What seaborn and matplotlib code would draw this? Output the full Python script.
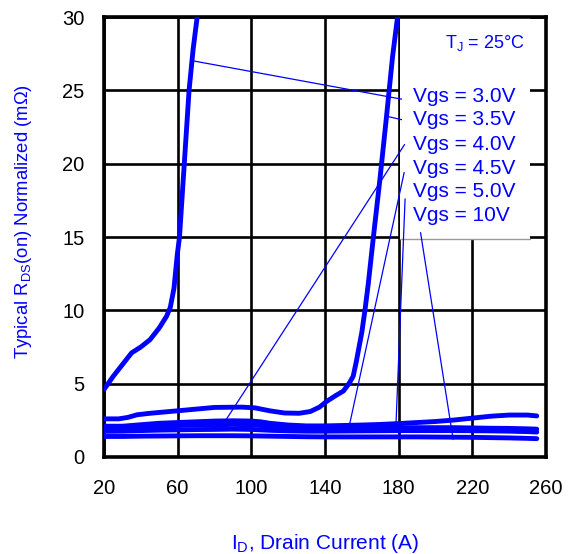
import matplotlib
matplotlib.use("Agg")
import matplotlib.pyplot as plt
import seaborn as sns
import pandas as pd
from matplotlib.patches import Rectangle

# drain current (A) and normalized Rds(on) (mOhm) per gate voltage
id_30 = [20, 25, 30, 35, 40, 45, 50, 54, 56, 58, 59.8, 61.0, 63.6, 66.2, 68.4, 70.6]
r_30 = [4.6, 5.5, 6.3, 7.1, 7.5, 8.0, 8.8, 9.6, 10.2, 11.5, 13.8, 15.0, 20.0, 25.0, 27.8, 30.0]

id_35 = [20, 28, 33, 38, 45, 60, 80, 95, 102, 110, 118, 126, 132, 137, 141, 146, 150,
         153, 155.3, 157, 158.5, 160, 161.7, 163.5, 166.2, 169.8, 173.4, 176.7, 179.4]
r_35 = [2.6, 2.6, 2.7, 2.88, 2.98, 3.15, 3.38, 3.4, 3.35, 3.15, 3.0, 2.98, 3.1, 3.4, 3.8, 4.2, 4.5,
        5.0, 5.5, 6.5, 7.5, 8.5, 10.0, 11.8, 14.9, 18.9, 23.2, 27.3, 30.0]

id_low = [20, 30, 40, 50, 60, 70, 80, 90, 100, 105, 110, 120, 130, 140, 150, 160, 170,
          180, 190, 200, 210, 220, 230, 240, 250, 255]
r_40 = [2.1, 2.1, 2.2, 2.3, 2.35, 2.4, 2.45, 2.47, 2.45, 2.4, 2.3, 2.18, 2.12, 2.12, 2.15,
        2.18, 2.22, 2.28, 2.35, 2.42, 2.52, 2.65, 2.78, 2.86, 2.86, 2.8]
r_45 = [1.95, 1.97, 2.05, 2.1, 2.15, 2.18, 2.2, 2.22, 2.2, 2.15, 2.1, 2.03, 2.0, 2.0, 2.0,
        2.0, 2.0, 2.0, 2.0, 2.0, 2.0, 1.98, 1.96, 1.95, 1.92, 1.9]
r_50 = [1.75, 1.76, 1.8, 1.83, 1.85, 1.87, 1.88, 1.9, 1.88, 1.85, 1.82, 1.78, 1.76, 1.76, 1.77,
        1.78, 1.79, 1.8, 1.8, 1.8, 1.8, 1.79, 1.78, 1.76, 1.73, 1.7]
r_10 = [1.4, 1.4, 1.42, 1.43, 1.44, 1.45, 1.45, 1.45, 1.44, 1.43, 1.42, 1.4, 1.38, 1.37, 1.37,
        1.37, 1.37, 1.37, 1.37, 1.36, 1.35, 1.34, 1.32, 1.3, 1.27, 1.25]

labels = ["Vgs = 3.0V", "Vgs = 3.5V", "Vgs = 4.0V", "Vgs = 4.5V", "Vgs = 5.0V", "Vgs = 10V"]
# leader lines: start near the label, end on the curve
lead_from = [(181.6, 24.4), (181.6, 23.0), (183.2, 21.3), (183.0, 19.4), (183.5, 17.6), (191.9, 15.3)]
lead_to = [(68.8, 27.0), (174.7, 23.2), (86.6, 2.6), (153.5, 2.3), (178.5, 2.07), (209.6, 1.2)]
label_y = [24.55, 22.98, 21.34, 19.7, 18.07, 16.5]

x_ticks = [20, 60, 100, 140, 180, 220, 260]
y_ticks = [0, 5, 10, 15, 20, 25, 30]

frames = []
for lab, xs, ys in [(labels[0], id_30, r_30), (labels[1], id_35, r_35),
                    (labels[2], id_low, r_40), (labels[3], id_low, r_45),
                    (labels[4], id_low, r_50), (labels[5], id_low, r_10)]:
    frames.append(pd.DataFrame({"id": xs, "r": ys, "vgs": lab}))
df = pd.concat(frames, ignore_index=True)

sns.set_style("white")
plt.rcParams["font.family"] = ["Liberation Sans", "DejaVu Sans"]
plt.rcParams["mathtext.default"] = "regular"

blue = "#0000ff"
fig = plt.figure(figsize=(5.72, 5.54), dpi=100)
ax = fig.add_axes([0.1818, 0.1751, 0.7727, 0.7942])

sns.lineplot(data=df, x="id", y="r", hue="vgs", palette=[blue] * 6, legend=False,
             linewidth=3.5, estimator=None, sort=False, ax=ax, zorder=4)

ax.set_xlim(20, 260)
ax.set_ylim(0, 30)
ax.set_xticks(x_ticks)
ax.set_yticks(y_ticks)
ax.tick_params(length=0, labelsize=14.5, colors="black")
ax.tick_params(axis="x", pad=16)
ax.tick_params(axis="y", pad=14)
ax.grid(True, color="black", linewidth=1.9)
ax.set_axisbelow(True)
for sp in ax.spines.values():
    sp.set_color("black")
    sp.set_linewidth(2.6)

# white label panel in the upper right corner, only its lower edge shows
box_x0, box_x1, box_y0 = 181.0, 251.2, 14.85
ax.add_patch(Rectangle((box_x0, box_y0), box_x1 - box_x0, 30 - box_y0, facecolor="white",
                       edgecolor="none", zorder=2))
ax.plot([box_x0, box_x1], [box_y0, box_y0], color="#999999", lw=1.0, zorder=2.1)

ax.text(226.8, 28.2, r"T$_J$ = 25°C", color=blue, fontsize=13, ha="center", va="center", zorder=6)
for lab, yv, p0, p1 in zip(labels, label_y, lead_from, lead_to):
    ax.text(187.7, yv, lab, color=blue, fontsize=15, ha="left", va="center", zorder=6)
    ax.annotate("", xy=p1, xytext=p0,
                arrowprops=dict(arrowstyle="-", color=blue, lw=0.9, shrinkA=0, shrinkB=0),
                zorder=5)

ax.set_xlabel(r"I$_D$, Drain Current (A)", color=blue, fontsize=15, labelpad=24)
ax.set_ylabel(r"Typical R$_{DS}$(on) Normalized (mΩ)", color=blue, fontsize=13.3, labelpad=20)
ax.yaxis.label.set_y(0.536)

fig.savefig("out.png", dpi=100)
